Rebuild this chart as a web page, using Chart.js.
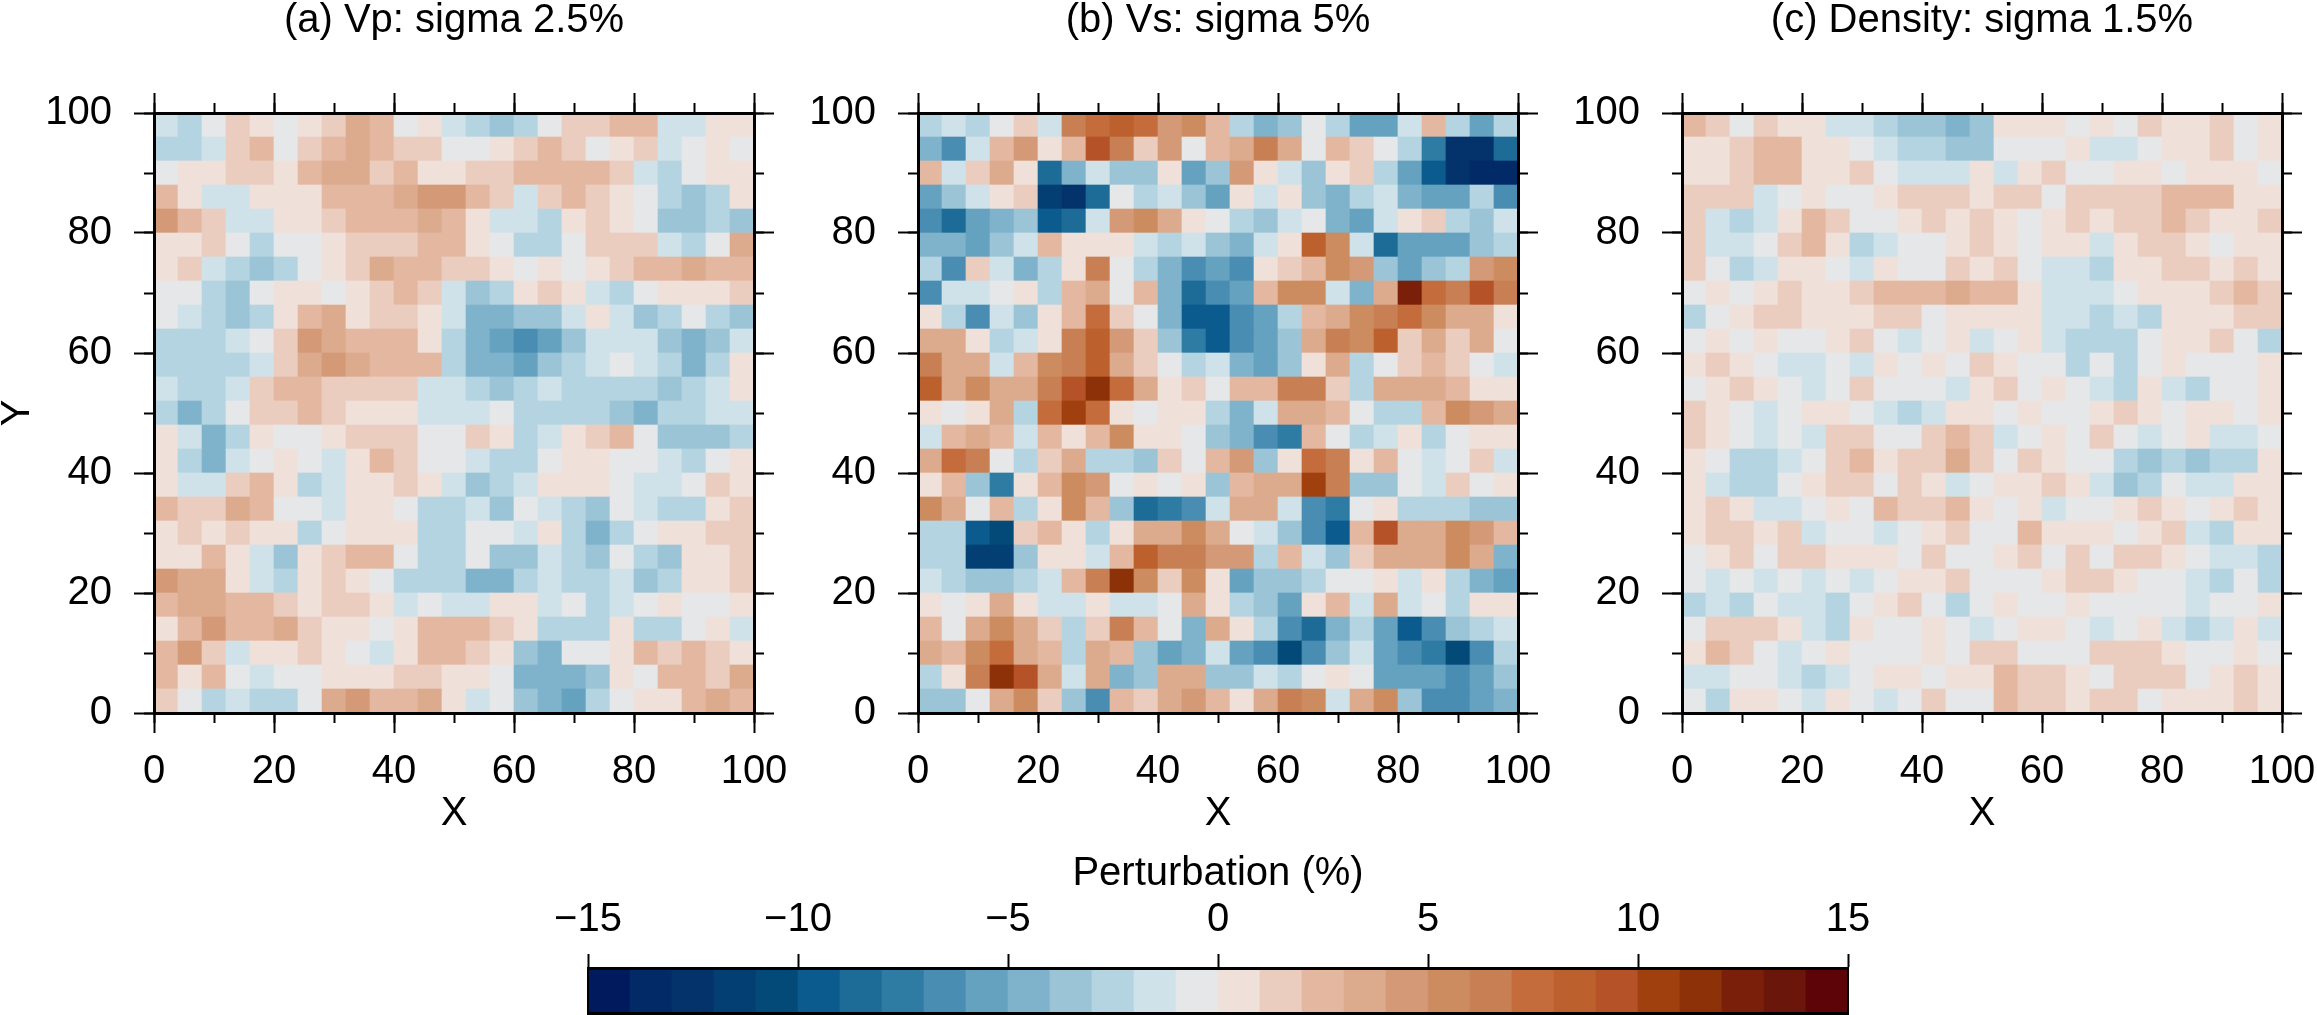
<!DOCTYPE html>
<html>
<head>
<meta charset="utf-8">
<script src="https://cdn.jsdelivr.net/npm/chart.js@4/dist/chart.umd.min.js"></script>
<style>
body{margin:0;background:#fff;overflow:hidden;width:2317px;height:1015px;position:relative}
canvas{position:absolute;top:0}
</style>
</head>
<body>
<canvas id="pa" width="814" height="845" style="left:0px"></canvas>
<canvas id="pb" width="814" height="845" style="left:764px"></canvas>
<canvas id="pc" width="814" height="845" style="left:1528px"></canvas>
<canvas id="cbar" width="1380" height="175" style="left:528px;top:840px"></canvas>
<script>
// perturbation (%), 25x25 blocks of 4x4 units, rows from Y=100 down to Y=0
var vpRows=[
 [-2,-3,-1,1,0,-1,0,1,3,2,-1,0,-2,-3,-4,-3,-1,1,1,2,2,-2,-2,0,0],
 [-3,-3,-2,1,2,-1,1,2,3,2,1,1,-1,-1,0,1,2,1,-1,0,1,-2,-1,0,-1],
 [-1,0,0,1,1,0,2,3,3,1,2,0,0,1,1,2,2,2,2,1,-2,-3,-1,0,0],
 [2,0,-2,-2,0,0,0,2,2,2,3,4,4,2,1,-2,1,2,1,0,-1,-3,-4,-3,0],
 [4,2,1,-2,-2,0,0,1,2,2,2,3,2,0,-2,-2,-3,0,1,0,-1,-4,-4,-3,-4],
 [0,0,1,-1,-3,-1,-1,0,1,1,1,2,2,0,-1,-3,-3,-1,1,1,1,-2,-3,-1,3],
 [0,1,-2,-3,-4,-3,-1,0,1,3,2,2,1,1,0,-1,0,-1,0,1,2,2,3,2,2],
 [-1,-1,-3,-4,-1,0,0,-1,0,1,2,1,-2,-4,-3,0,1,0,-2,-3,-1,0,0,0,1],
 [-1,-2,-3,-4,-3,0,2,3,0,1,1,0,-2,-5,-5,-4,-4,-2,0,-2,-4,-3,-1,-3,-4],
 [-3,-3,-3,-2,-1,1,4,3,2,2,2,0,-3,-5,-6,-7,-6,-4,-2,-2,-2,-4,-5,-4,-2],
 [-3,-3,-3,-3,-2,1,3,4,3,2,2,2,-3,-5,-5,-6,-4,-3,-2,-1,-2,-3,-5,-3,0],
 [-2,-3,-3,-2,1,2,2,1,1,1,1,-2,-2,-3,-4,-3,-2,-3,-3,-3,-3,-4,-3,-2,0],
 [-3,-5,-3,-1,1,1,2,1,0,0,0,-2,-2,-2,-1,-3,-3,-3,-3,-4,-5,-3,-3,-2,-2],
 [0,-2,-5,-3,0,-1,-1,0,1,1,1,-1,-1,1,0,-3,-2,0,1,2,-1,-4,-4,-4,-3],
 [0,-3,-5,-2,-1,0,-1,-2,0,2,1,-1,-1,-2,-3,-3,-1,0,0,-1,-1,-2,-3,-1,0],
 [0,-2,-2,1,2,0,-3,-2,0,0,1,0,-2,-4,-3,-2,0,0,0,-1,-2,-2,-1,1,0],
 [2,1,1,3,2,-1,-1,-2,0,0,-1,-3,-3,-2,-4,-1,-2,-3,-4,-1,-2,-3,-3,0,1],
 [0,1,0,1,0,0,-3,-1,0,0,0,-3,-3,-1,-1,-2,0,-3,-5,-3,-1,0,0,1,1],
 [0,0,2,0,-2,-4,0,1,2,2,-1,-3,-3,-1,-4,-4,-2,-3,-4,-1,-3,-4,0,0,1],
 [4,3,3,0,-2,-3,0,1,0,-1,-3,-3,-3,-5,-5,-3,-2,-3,-3,-2,-4,-3,0,0,1],
 [2,3,3,2,2,1,0,1,1,0,-2,-1,-2,-2,0,0,-2,-1,-3,-2,-1,0,-1,-1,0],
 [0,2,4,2,2,3,1,0,0,-1,0,2,2,2,1,0,-3,-3,-3,0,-3,-3,-1,0,-2],
 [2,4,1,-2,0,0,1,0,-1,-2,0,2,2,1,0,-4,-5,-1,-1,0,2,1,2,1,0],
 [2,0,2,-1,-2,-1,-1,0,0,0,1,1,0,0,-1,-5,-5,-5,-4,0,-1,2,2,1,3],
 [1,-1,-3,-2,-3,-3,-1,3,4,2,2,3,0,-2,-1,-4,-5,-6,-3,-1,0,0,2,3,2]
]
var vsRows=[
 [-3,-2,-3,-1,1,-2,6,7,8,7,4,5,2,-3,-5,-4,-1,-3,-6,-6,-2,2,-3,-6,-3],
 [-5,-7,-2,2,4,0,2,9,6,1,4,-1,2,3,6,3,-1,2,1,-1,-3,-8,-13,-13,-9],
 [2,-2,1,3,0,-9,-5,-2,-4,-4,0,-6,-4,4,0,-2,-4,0,1,-3,-6,-10,-13,-14,-14],
 [-6,-4,-2,0,1,-12,-13,-9,-1,-3,-2,-4,-6,0,-2,0,-4,-5,-3,-2,-5,-6,-6,-3,-7],
 [-7,-9,-6,-5,-4,-10,-9,-2,4,5,3,0,-1,-3,-4,-2,-1,-5,-6,-2,0,1,-3,-4,-2],
 [-5,-5,-6,-4,-2,2,0,0,0,-2,-3,-2,-4,-5,-2,0,8,5,-2,-9,-6,-6,-6,-4,-3],
 [-3,-7,1,-2,-5,-3,0,6,-1,-3,-5,-7,-6,-7,0,1,2,5,4,-4,-6,-4,-3,4,5],
 [-7,-2,-2,-1,0,-3,2,3,-1,2,-5,-9,-7,-6,2,5,5,-2,-5,3,12,7,6,9,6],
 [0,-3,-7,-2,-4,0,2,7,1,-1,-5,-10,-10,-7,-6,-3,2,3,5,6,7,5,3,3,0],
 [3,3,0,-3,-2,0,6,8,4,1,-4,-8,-10,-7,-6,-4,3,6,5,8,1,3,1,3,-1],
 [6,3,3,-2,2,5,6,8,3,1,-1,-3,-2,-5,-6,-4,0,3,-3,-1,1,2,1,-1,-2],
 [8,3,5,3,3,6,9,11,7,3,0,1,-1,2,2,6,6,1,-3,3,3,3,2,0,0],
 [0,-1,0,3,-3,7,10,7,0,-1,0,0,-3,-5,-2,3,3,2,-1,-3,-3,2,5,4,3],
 [-2,2,3,2,-2,2,0,2,5,0,0,-1,-4,-5,-7,-8,2,-1,-3,-2,0,-3,-1,0,0],
 [3,7,6,-1,-3,1,3,-3,-3,-4,1,-1,2,4,-4,0,7,6,0,2,-1,-2,-1,1,-2],
 [0,2,-4,-8,0,2,5,4,-1,0,-1,0,-4,2,3,3,10,6,-4,-4,-1,-2,1,-1,0],
 [5,3,-1,2,-3,0,5,2,-4,-9,-8,-7,-2,3,3,-2,-7,-8,-1,0,-3,-3,-3,-4,-4],
 [-3,-3,-10,-11,1,2,0,-3,0,3,3,5,3,-1,-2,-4,-7,-10,2,9,3,3,5,4,2],
 [-3,-3,-12,-12,-4,0,0,-2,2,8,6,6,4,4,-3,2,-2,-4,1,3,3,3,5,3,-5],
 [-2,-3,-4,-4,-3,-2,2,6,11,5,1,5,0,-6,-4,-4,-3,-1,-1,0,-2,0,-3,-5,-6],
 [0,-1,0,3,0,-2,-2,0,-2,-2,-1,3,0,-3,-4,-6,0,2,-2,3,-2,-1,-3,0,0],
 [2,-1,3,5,3,1,-3,1,6,2,-1,-5,3,0,-3,-7,-9,-5,-3,-6,-10,-7,-4,-3,-2],
 [3,2,5,7,3,2,-3,3,2,-4,-6,-5,-2,-6,-7,-11,-7,-4,-2,-6,-7,-8,-11,-7,-3],
 [-3,0,6,11,9,3,-2,3,-5,-4,3,3,-4,-4,-2,-3,-1,0,-1,-6,-6,-6,-7,-6,-4],
 [-4,-4,-1,3,5,1,-4,-7,2,1,3,4,2,0,3,6,5,-2,3,5,-4,-7,-7,-6,-5]
]
var rhoRows=[
 [2,1,-1,1,0,0,-2,-2,-3,-4,-4,-5,-4,0,0,0,-1,0,-1,1,0,0,1,-1,0],
 [0,0,1,2,2,0,0,-1,-2,-3,-3,-4,-4,-1,-1,-1,0,-2,-2,-1,0,0,1,-1,0],
 [0,0,1,2,2,0,0,1,-1,-2,-2,-2,0,-2,0,1,-1,-1,0,0,-1,0,0,0,-1],
 [1,1,1,-2,-1,0,-1,-1,0,1,1,1,0,1,1,-1,1,1,1,1,2,2,2,0,0],
 [1,-2,-3,-2,0,2,1,-1,-1,0,1,0,1,0,-1,0,1,0,1,1,2,1,0,0,1],
 [1,-2,-2,-1,1,2,0,-3,-2,-1,-1,0,1,0,-1,0,0,-2,0,1,1,0,-1,0,0],
 [1,-1,-3,-2,0,0,-1,-2,0,-1,-1,1,0,1,-1,-2,-2,-3,0,0,1,1,0,1,0],
 [-1,0,-1,0,1,0,0,1,2,2,2,3,2,2,0,-2,-2,-2,-1,0,0,0,1,2,1],
 [-3,-1,0,1,1,0,0,0,1,1,-1,0,0,0,0,-2,-2,-3,-2,-3,0,0,0,1,1],
 [-1,0,-1,0,-1,-1,0,1,-1,-2,-1,0,-2,-1,0,-2,-3,-3,-3,-1,0,0,1,-1,-3],
 [0,1,0,-1,-2,-2,-1,-2,0,-1,0,-1,1,0,-1,-1,-3,-1,-3,-1,0,-1,-1,-1,0],
 [-1,0,1,0,-1,-2,-1,1,-1,-1,-1,-2,0,1,-1,0,-1,-2,-3,0,-2,-3,-1,-1,0],
 [1,0,-1,-2,-1,0,0,-1,-2,-3,-2,0,0,-1,0,-1,-1,0,1,0,-1,0,0,-1,0],
 [1,0,-1,-2,-1,-2,1,1,-1,-1,1,2,1,-2,-1,0,-1,1,-1,-2,-1,0,-2,-2,-1],
 [0,-1,-3,-3,-2,-1,1,2,0,1,1,3,1,-1,1,0,-1,-1,-3,-4,-3,-4,-3,-3,0],
 [0,-2,-3,-3,-1,0,1,1,-1,1,0,-2,-1,0,0,1,0,-2,-4,-3,-1,-2,-2,0,0],
 [0,1,0,-2,-2,-1,0,-1,2,1,1,2,0,-1,0,-2,-1,-1,0,1,0,-1,0,1,0],
 [0,1,1,0,1,-2,-1,-1,-2,-1,0,1,-1,-1,2,0,0,0,-1,0,1,-2,-3,0,0],
 [-1,0,1,-1,1,1,0,0,0,-1,1,-1,-1,0,1,-1,1,-1,1,1,0,-1,-2,-2,-3],
 [-1,-2,-1,-2,-1,-2,-1,-2,-1,0,0,1,-1,-1,-1,0,1,1,0,-1,-1,-2,-3,-1,-3],
 [-3,-2,-3,-1,-2,-2,-3,-1,0,1,-1,-3,-1,0,-1,-1,0,-1,-1,-1,-1,-2,-1,-1,0],
 [-1,1,1,1,0,-2,-3,0,-1,-1,0,-1,-2,-1,0,0,-1,-2,-1,0,-2,-3,-2,0,-2],
 [0,2,1,-1,-2,-1,0,-1,-1,-1,0,-1,1,1,-1,-1,-1,1,1,1,0,-1,-1,0,-1],
 [-2,-2,-1,-1,-2,-3,-2,-1,0,0,-1,0,0,2,1,1,0,-1,1,1,1,-1,0,1,0],
 [-1,-3,0,0,-1,-2,0,-1,-2,-1,1,-1,-1,2,1,1,0,1,1,-1,0,0,0,1,0]
]
var panelTitles=['(a) Vp: sigma 2.5%','(b) Vs: sigma 5%','(c) Density: sigma 1.5%']
var cbarMin=-15, cbarMax=15, cbarStep=5
// one colour per 1% bin, -15 .. 15
var binColors=['#001a5e','#022a66','#04336c','#043f73','#044a78','#0b5b8e','#1c6c97','#2e7ba4','#4a8db2','#64a2c0',
               '#7fb2cb','#9bc5d6','#b5d4e1','#cfe2e9','#e6e7e8','#efe0d9','#ebcdc0','#e4b8a0','#dcab8e','#d49a78',
               '#cc8c5f','#c77f53','#c46c3c','#bc602e','#b55227','#a0400e','#8d3208','#7a200a','#6b160b','#5c0408']
var cellSize=4
var fontSize=40

Chart.defaults.font.family="'Liberation Sans', Arial, Helvetica, sans-serif"
Chart.defaults.color='#000'

function cellColor(v){
    var k=Math.floor(v)-cbarMin
    return binColors[Math.max(0,Math.min(binColors.length-1,k))]
}

function axis(pos,weight,step,len,size){
    var horiz=(pos=='top'||pos=='bottom')
    return {
        type:'linear',position:pos,weight:weight,min:0,max:100,offset:false,
        ticks:{stepSize:step,display:false,autoSkip:false,maxRotation:0,font:{size:fontSize}},
        grid:{drawOnChartArea:false,offset:false,tickLength:len,tickWidth:2,tickColor:'#000'},
        border:{display:weight>0,width:3,color:'#000',z:1},
        afterFit:function(s){ if(horiz){s.height=size}else{s.width=size} }
    }
}

function heatPanel(canvasId,title,rows,yTitle){
    var pts=[],colors=[]
    rows.forEach(function(row,i){
        row.forEach(function(v,j){
            pts.push({x:(j+0.5)*cellSize,y:[100-(i+1)*cellSize,100-i*cellSize]})
            colors.push(cellColor(v))
        })
    })
    var x=axis('bottom',1,20,20,132), xm=axis('bottom',0,10,10,0)
    var xt=axis('top',1,20,20,113), xtm=axis('top',0,10,10,0)
    var y=axis('left',1,20,20,154), ym=axis('left',0,10,10,0)
    var yr=axis('right',1,20,20,60), yrm=axis('right',0,10,10,0)
    x.ticks.display=true; x.ticks.padding=15
    x.title={display:true,text:'X',font:{size:fontSize},padding:{top:0,bottom:7}}
    y.ticks.display=true; y.ticks.padding=22
    y.title={display:!!yTitle,text:yTitle||'',font:{size:fontSize},padding:{top:-6,bottom:0}}
    xt.title={display:true,text:title,font:{size:fontSize},padding:{top:-3,bottom:0}}
    return new Chart(document.getElementById(canvasId),{
        type:'bar',
        data:{datasets:[{data:pts,backgroundColor:colors,borderWidth:0,barPercentage:1,categoryPercentage:1}]},
        options:{
            responsive:false,animation:false,devicePixelRatio:1,
            plugins:{legend:{display:false},tooltip:{enabled:false}},
            scales:{x:x,xm:xm,xt:xt,xtm:xtm,y:y,ym:ym,yr:yr,yrm:yrm}
        }
    })
}

function colorBar(canvasId){
    var pts=[],colors=[]
    binColors.forEach(function(c,k){
        pts.push({x:cbarMin+k+0.5,y:[0,1]})
        colors.push(c)
    })
    var side=function(pos){
        return {position:pos,min:0,max:1,ticks:{display:false},grid:{display:false},
                border:{display:true,width:2,color:'#000',z:1},afterFit:function(s){s.width=0}}
    }
    return new Chart(document.getElementById(canvasId),{
        type:'bar',
        data:{datasets:[{data:pts,backgroundColor:colors,borderWidth:0,barPercentage:1,categoryPercentage:1}]},
        options:{
            responsive:false,animation:false,devicePixelRatio:1,
            layout:{padding:{left:60,right:60,top:0,bottom:2}},
            plugins:{legend:{display:false},tooltip:{enabled:false}},
            scales:{
                x:{type:'linear',position:'top',min:cbarMin,max:cbarMax,offset:false,
                   ticks:{stepSize:cbarStep,padding:10,autoSkip:false,maxRotation:0,font:{size:fontSize},
                          callback:function(v){ return v<0 ? '\u2212'+Math.abs(v) : ''+v }},
                   grid:{drawOnChartArea:false,offset:false,tickLength:14,tickWidth:2,tickColor:'#000'},
                   border:{display:true,width:3,color:'#000',z:1},
                   title:{display:true,text:'Perturbation (%)',font:{size:fontSize},padding:{top:10,bottom:0}},
                   afterFit:function(s){s.height=128}},
                xb:{type:'linear',position:'bottom',min:cbarMin,max:cbarMax,offset:false,
                    ticks:{display:false},grid:{display:false,offset:false},
                    border:{display:true,width:3,color:'#000',z:1},
                    afterFit:function(s){s.height=0}},
                y:side('left'),
                yr:side('right')
            }
        }
    })
}

heatPanel('pa',panelTitles[0],vpRows,'Y')
heatPanel('pb',panelTitles[1],vsRows)
heatPanel('pc',panelTitles[2],rhoRows)
colorBar('cbar')
</script>
</body>
</html>
